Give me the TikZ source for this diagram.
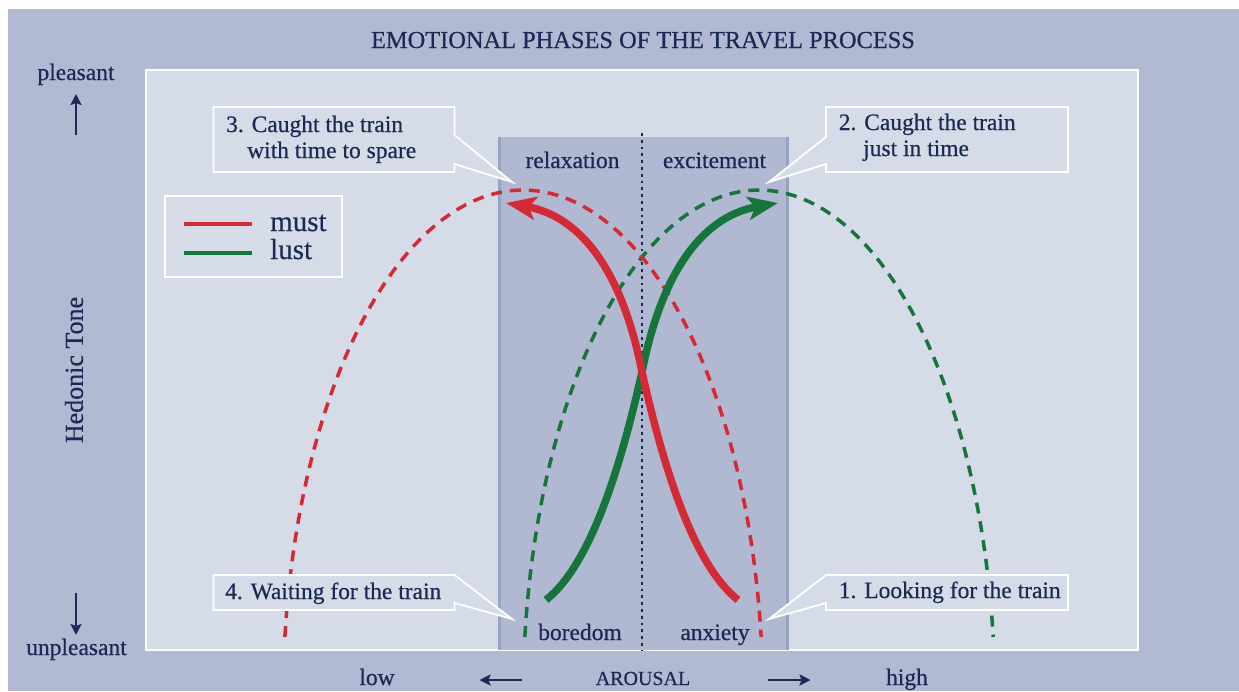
\documentclass[tikz,border=0pt]{standalone}
\usepackage{fontspec}
\setmainfont{Liberation Serif}[FakeBold=0.5]
\usetikzlibrary{arrows.meta}
\definecolor{outerbg}{HTML}{B1B9D3}
\definecolor{panelbg}{HTML}{D5DBE7}
\definecolor{bandbg}{HTML}{B0B8D2}
\definecolor{bandedge}{HTML}{97A3C1}
\definecolor{navy}{HTML}{1B2A55}
\definecolor{mustred}{HTML}{D42A35}
\definecolor{lustgreen}{HTML}{16753A}
\tikzset{
  txt/.style={inner sep=0pt, text=navy, font=\fontsize{23.5}{26}\selectfont},
  calloutbox/.style={fill=panelbg, draw=white, line width=1.8pt, line join=miter},
  dasharc/.style={line width=3.5pt, dash pattern=on 11pt off 8pt},
  flow/.style={line width=7.5pt, -{Stealth[length=30pt,width=23pt,inset=7pt]}},
  axisarrow/.style={navy, line width=2.8pt, -{Stealth[length=11pt,width=11pt,inset=2pt]}},
  legendline/.style={line width=3.8pt},
}
\begin{document}
\begin{tikzpicture}[x=1pt,y=-1pt]
\useasboundingbox (0,0) rectangle (1239,691);
% backgrounds
\fill[outerbg] (8,9) rectangle (1239,691);
\draw[fill=panelbg, draw=white, line width=2pt] (146,70) rectangle (1138,650);
\fill[bandbg] (498,137) rectangle (789,650);
\draw[bandedge, line width=3pt] (499.5,137) -- (499.5,650);
\draw[bandedge, line width=3pt] (787.5,137) -- (787.5,650);
% dotted divider
\coordinate (divtop) at (642,133);
\coordinate (divbot) at (642,650);
\draw[navy, line width=2.8pt, dash pattern=on 2.8pt off 4pt] (divtop) -- (divbot);
% dashed arches
\draw[dasharc, lustgreen] plot[domain=172.9:7.1, samples=90] ({759+236*cos(\x)},{700-510*sin(\x)});
\draw[dasharc, mustred] plot[domain=172.9:7.1, samples=90] ({523+240*cos(\x)},{700-510*sin(\x)});
% callouts
\draw[calloutbox] (213.5,107) -- (454.5,107) -- (454.5,135) -- (512,182) -- (454.5,164) -- (454.5,172) -- (213.5,172) -- cycle;
\draw[calloutbox] (826,107) -- (1068,107) -- (1068,172) -- (826,172) -- (826,164) -- (769,182) -- (826,137) -- cycle;
\draw[calloutbox] (213.5,575) -- (454.5,575) -- (512,619) -- (454.5,603) -- (454.5,610) -- (213.5,610) -- cycle;
\draw[calloutbox] (826,575) -- (1068,575) -- (1068,610) -- (826,610) -- (826,603) -- (769,619) -- cycle;
\node[txt, anchor=base west] (c3a) at (226,132) {3. Caught the train};
\node[txt, anchor=base west] (c3b) at (247,158) {with time to spare};
\node[txt, anchor=base west] (c2a) at (838.6,130) {2. Caught the train};
\node[txt, anchor=base west] (c2b) at (863,156) {just in time};
\node[txt, anchor=base west] (c4) at (225,599) {4. Waiting for the train};
\node[txt, anchor=base west] (c1) at (838.6,598) {1. Looking for the train};
% solid flows
\coordinate (gstart) at (546,600);
\coordinate (rstart) at (738,600);
\coordinate (cross) at (642,372);
\coordinate (gend) at (778,203);
\coordinate (rend) at (506,203);
\draw[flow, lustgreen] (gstart) .. controls (590,565) and (620,470) .. (cross) .. controls (664,260) and (710,215) .. (gend);
\draw[flow, mustred] (rstart) .. controls (694,565) and (664,470) .. (cross) .. controls (620,260) and (574,215) .. (rend);
% legend
\draw[fill=panelbg, draw=white, line width=2pt] (165,196) rectangle (342,277);
\coordinate (lm1) at (184,224); \coordinate (lm2) at (252,224);
\coordinate (ll1) at (184,253); \coordinate (ll2) at (252,253);
\draw[legendline, mustred] (lm1) -- (lm2);
\draw[legendline, lustgreen] (ll1) -- (ll2);
\node[txt, font=\fontsize{29}{30}\selectfont, anchor=base west] (must) at (270,231) {must};
\node[txt, font=\fontsize{29}{30}\selectfont, anchor=base west] (lust) at (270,259) {lust};
% band labels
\node[txt, anchor=base] (relax) at (572.5,168) {relaxation};
\node[txt, anchor=base] (excite) at (714.5,168) {excitement};
\node[txt, anchor=base] (bored) at (580,640) {boredom};
\node[txt, anchor=base] (anx) at (715,640) {anxiety};
% title
\node[txt, font=\fontsize{24.4}{26}\selectfont, anchor=base] (title) at (643,48) {EMOTIONAL PHASES OF THE TRAVEL PROCESS};
% vertical axis
\node[txt, anchor=base] (pleasant) at (76,80) {pleasant};
\coordinate (upa) at (76,135); \coordinate (upb) at (76,94);
\draw[axisarrow] (upa) -- (upb);
\node[txt, anchor=base] (unpleasant) at (76.5,655) {unpleasant};
\coordinate (dna) at (76,593); \coordinate (dnb) at (76,635);
\draw[axisarrow] (dna) -- (dnb);
\node[txt, rotate=90, font=\fontsize{26}{28}\selectfont] (hedonic) at (74,370) {Hedonic Tone};
% horizontal axis
\node[txt, anchor=base] (low) at (377,685) {low};
\node[txt, font=\fontsize{20}{22}\selectfont, anchor=base] (arousal) at (643,685) {AROUSAL};
\node[txt, anchor=base] (high) at (907,685) {high};
\coordinate (la) at (522,680); \coordinate (lb) at (479.5,680);
\coordinate (ra) at (768,680); \coordinate (rb) at (810.5,680);
\draw[axisarrow] (la) -- (lb);
\draw[axisarrow] (ra) -- (rb);
\end{tikzpicture}
\end{document}
